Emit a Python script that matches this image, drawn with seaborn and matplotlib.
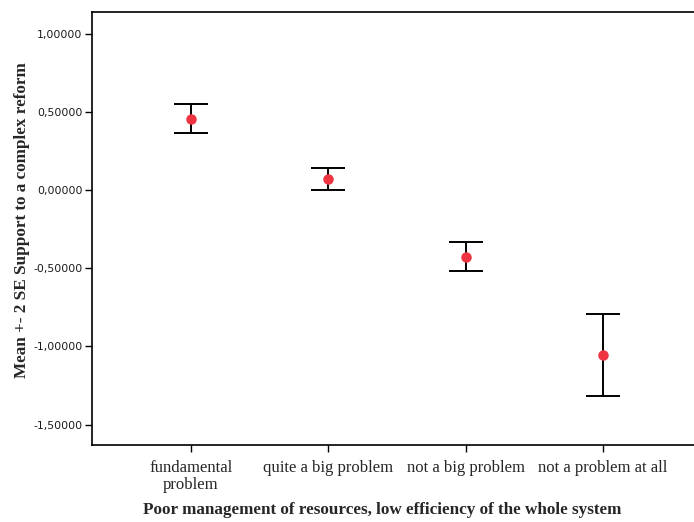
import matplotlib
matplotlib.use("Agg")
import matplotlib.pyplot as plt
import matplotlib.ticker as mticker
import seaborn as sns
import pandas as pd
import numpy as np

categories = ["fundamental\nproblem", "quite a big problem", "not a big problem", "not a problem at all"]
means = [0.457, 0.070, -0.426, -1.056]
upper = [0.549, 0.138, -0.332, -0.791]
lower = [0.364, 0.002, -0.521, -1.317]

sns.set_theme(style="white")
plt.rcParams['font.family'] = ['DejaVu Sans']

fig = plt.figure(figsize=(6.94, 5.22), dpi=100)
ax = fig.add_axes([92/694, 1-445/522, 610/694, (445-12.3)/522])

df = pd.DataFrame({"cat": categories, "mean": means})
pos = np.arange(len(categories))
yerr = np.array([np.array(means) - np.array(lower), np.array(upper) - np.array(means)])
ax.errorbar(pos, means, yerr=yerr, fmt='none', ecolor='black', elinewidth=1.4,
            capsize=12.5, capthick=1.4, zorder=2)
sns.pointplot(data=df, x="cat", y="mean", linestyle="none", errorbar=None,
              color="#ee3440", markers="o", markersize=5.5, ax=ax, zorder=3)

ax.set_xlim(-0.72, 3.72)
ax.set_ylim(-1.631, 1.137)
ax.set_yticks([1.0, 0.5, 0.0, -0.5, -1.0, -1.5])
ax.yaxis.set_major_formatter(mticker.FuncFormatter(lambda v, p: f"{v:.5f}".replace(".", ",")))
for lab in ax.get_yticklabels():
    lab.set_fontfamily("DejaVu Sans")
    lab.set_fontsize(7.8)
    lab.set_color("#1a1a1a")
ax.set_xticks(pos)
ax.set_xticklabels(categories, fontfamily="Liberation Serif", fontsize=12, linespacing=1.05)
ax.tick_params(axis='both', which='both', direction='out', length=5, width=1, color='black',
               bottom=True, left=True, pad=2)
ax.tick_params(axis='x', pad=6)

for s in ax.spines.values():
    s.set_color('black')
    s.set_linewidth(1.2)

h = 445 - 12.3
ax.set_xlabel("Poor management of resources, low efficiency of the whole system",
              fontfamily="Liberation Serif", fontweight="bold", fontsize=12.3, va="center")
ax.xaxis.set_label_coords((382-92)/610, -(510-445)/h, transform=ax.transAxes)
ax.set_ylabel("Mean +- 2 SE Support to a complex reform",
              fontfamily="Liberation Serif", fontweight="bold", fontsize=12.3)
ax.yaxis.set_label_coords(-(92-30)/610, (445-220)/h)

fig.savefig("out.png", dpi=100)
